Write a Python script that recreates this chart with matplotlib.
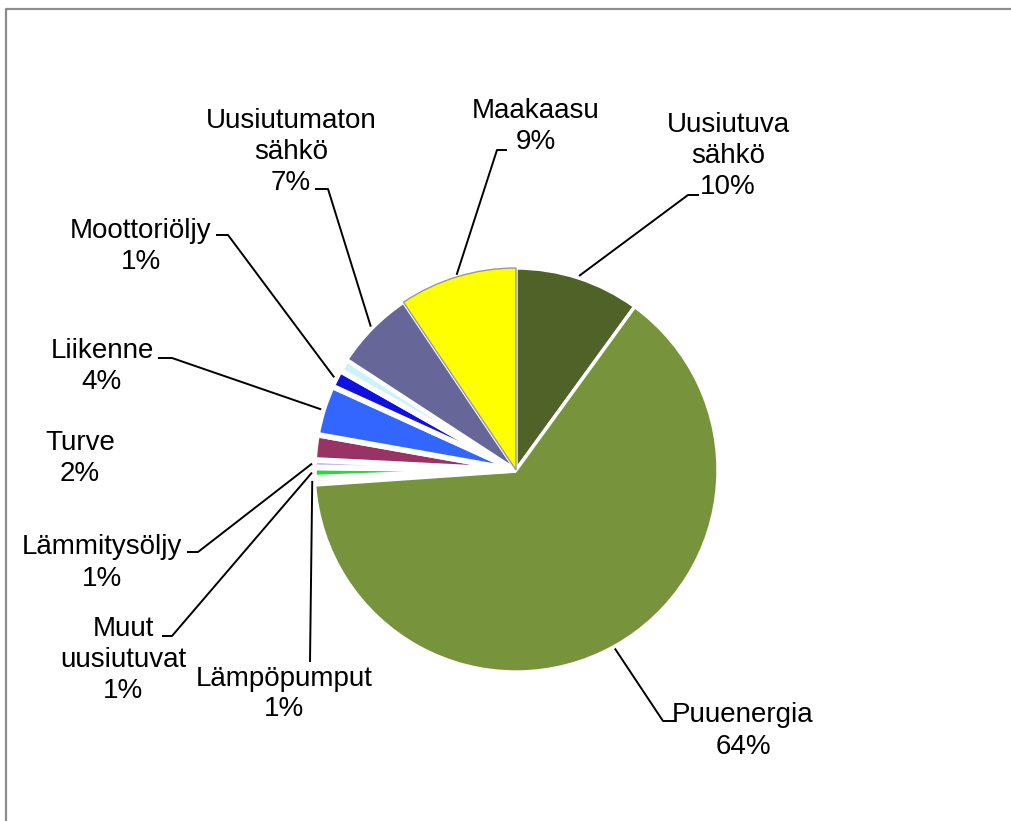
import numpy as np
from matplotlib import pyplot as plt

# energy sources, clockwise from 12 o'clock
names = ['Uusiutuva\nsähkö', 'Puuenergia', 'Lämpöpumput', 'Muut\nuusiutuvat',
         'Lämmitysöljy', 'Turve', 'Liikenne', 'Moottoriöljy', '',
         'Uusiutumaton\nsähkö', 'Maakaasu']
shares = [10.0, 63.9, 0.5, 0.8, 0.6, 2.0, 4.0, 1.4, 1.0, 6.4, 9.4]
pct_text = ['10%', '64%', '1%', '1%', '1%', '2%', '4%', '1%', '', '7%', '9%']
colours = ['#4F6228', '#77933C', '#DDF5D5', '#22DD33', '#C9B8F0', '#993366',
           '#3366FF', '#1010E0', '#CCF2FA', '#666699', '#FFFF00']

W, H = 1012, 821
cx, cy, R = 516, H - 470, 202

# label layout in pixel coords (y from top): text centre, elbow, end of short tick
lab_pos = [(728, 156), (743, 731), (284, 694), (123, 660), (102, 563), (80, 458),
           (102, 366), (141, 246), None, (291, 152), (536, 126)]
elbows = [((688, 195), (699, 195)), ((663, 721), (675, 721)), ((310, 662), (310, 662)),
          ((172, 636), (162, 636)), ((198, 552), (187, 552)), None,
          ((172, 358), (158, 358)), ((228, 235), (216, 235)), None,
          ((328, 189), (315, 189)), ((497, 150), (507, 150))]

fig = plt.figure(figsize=(W / 100, H / 100), dpi=100)
ax = fig.add_axes([0, 0, 1, 1])
plt.rcParams['font.family'] = ['Liberation Sans', 'DejaVu Sans']

explode = [0.01, 0.035, 0.015, 0.015, 0.015, 0.015, 0.015, 0.015, 0.015, 0.01, 0.0]
wedges, _ = ax.pie(shares, colors=colours, startangle=90, counterclock=False,
                   center=(cx, cy), radius=R, explode=explode,
                   wedgeprops=dict(edgecolor='white', linewidth=2.5))
# small slices get thicker white gaps, like the original
for w, s in zip(wedges, shares):
    if s < 5:
        w.set_linewidth(4)
wedges[-1].set_edgecolor('#999999')
wedges[-1].set_linewidth(1)

for i, w in enumerate(wedges):
    if lab_pos[i] is None:
        continue
    tx, ty = lab_pos[i]
    ax.text(tx, H - ty, names[i] + '\n' + pct_text[i], ha='center', va='center',
            fontsize=20, linespacing=1.25, family=['Liberation Sans', 'DejaVu Sans'])
    if elbows[i] is None:
        continue
    th = np.deg2rad((w.theta1 + w.theta2) / 2)
    r0 = w.r * 1.01
    x0 = w.center[0] + r0 * np.cos(th)
    y0 = w.center[1] + r0 * np.sin(th)
    (ex, ey), (hx, hy) = elbows[i]
    ax.plot([x0, ex, hx], [y0, H - ey, H - hy], color='black', lw=1.4,
            solid_capstyle='butt')

# chart area frame (top and left edges visible)
ax.plot([6, 6, W], [0, H - 9, H - 9], color='#8C8C8C', lw=1.6)

ax.set_xlim(0, W)
ax.set_ylim(0, H)
ax.set_aspect('equal')
ax.axis('off')

plt.savefig('out.png', dpi=100)
